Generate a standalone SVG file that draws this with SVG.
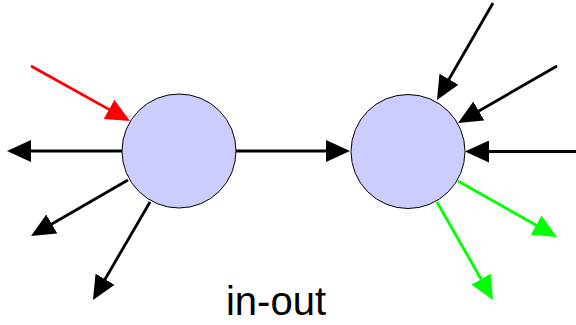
<svg xmlns="http://www.w3.org/2000/svg" width="576" height="325" viewBox="0 0 576 325">
  <style>
    .node circle { fill: #ccccff; stroke: #000; stroke-width: 1; }
    .edge { stroke-width: 2.8; fill: none; stroke-linecap: butt; }
    .black { stroke: #000; marker-end: url(#ah-black); }
    .red { stroke: #ff0000; marker-end: url(#ah-red); }
    .green { stroke: #00ff00; marker-end: url(#ah-green); }
    .label { font-family: "Liberation Sans", Arial, sans-serif; font-size: 40px; fill: #000; }
  </style>
  <defs>
    <marker id="ah-black" markerUnits="userSpaceOnUse" markerWidth="24" markerHeight="22" refX="20" refY="11" orient="auto" viewBox="0 0 24 22">
      <path d="M0,0 L24,11 L0,22 z" fill="#000"/>
    </marker>
    <marker id="ah-red" markerUnits="userSpaceOnUse" markerWidth="24" markerHeight="22" refX="20" refY="11" orient="auto" viewBox="0 0 24 22">
      <path d="M0,0 L24,11 L0,22 z" fill="#ff0000"/>
    </marker>
    <marker id="ah-green" markerUnits="userSpaceOnUse" markerWidth="24" markerHeight="22" refX="20" refY="11" orient="auto" viewBox="0 0 24 22">
      <path d="M0,0 L24,11 L0,22 z" fill="#00ff00"/>
    </marker>
  </defs>
  <g id="connectors">
    <line class="edge red" x1="31" y1="66" x2="126.5" y2="119.1"/>
    <line class="edge black" x1="122" y1="151" x2="11" y2="151"/>
    <line class="edge black" x1="128" y1="180" x2="34.5" y2="234"/>
    <line class="edge black" x1="150" y1="202" x2="95" y2="296.5"/>
    <line class="edge black" x1="236" y1="151" x2="346" y2="151"/>
    <line class="edge black" x1="493" y1="3" x2="439" y2="96.5"/>
    <line class="edge black" x1="557" y1="66" x2="461.5" y2="121"/>
    <line class="edge black" x1="576" y1="151.5" x2="469" y2="151.5"/>
    <line class="edge green" x1="458" y1="181" x2="553.5" y2="235"/>
    <line class="edge green" x1="437" y1="202" x2="491" y2="296.5"/>
  </g>
  <g id="node-left" class="node">
    <circle cx="179" cy="151" r="57"/>
  </g>
  <g id="node-right" class="node">
    <circle cx="408" cy="151.5" r="57"/>
  </g>
  <text class="label" x="276" y="315" text-anchor="middle">in-out</text>
</svg>
